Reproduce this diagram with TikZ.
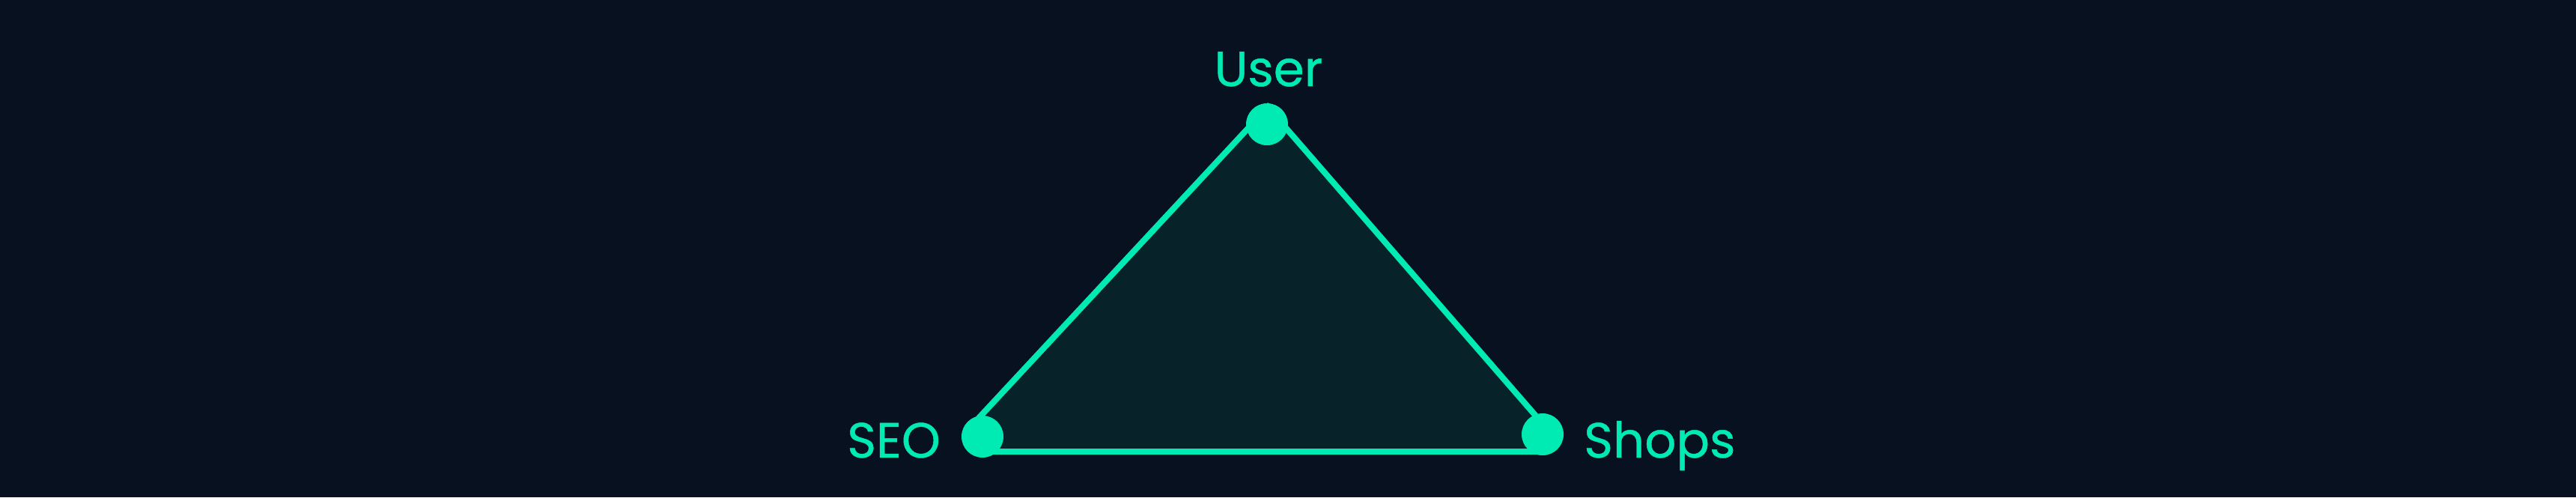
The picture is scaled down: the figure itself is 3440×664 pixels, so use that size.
\documentclass[tikz,border=0pt]{standalone}
\usepackage{fontspec}
\setmainfont{Poppins}
\newfontfamily\lblfont{Poppins}[FakeBold=0.7]
\definecolor{bgnavy}{HTML}{081120}
\definecolor{mint}{HTML}{00EBB4}
\definecolor{tealfill}{HTML}{072329}
\begin{document}
\begin{tikzpicture}[x=1pt,y=-1pt,
  dotnode/.style={circle,fill=mint,draw=none,minimum size=56pt,inner sep=0pt},
  lbl/.style={text=mint,font=\lblfont\fontsize{66}{66}\selectfont,inner sep=0pt},
  edgeline/.style={draw=mint,line width=8pt,fill=tealfill,line join=miter}]
\fill[bgnavy] (0,0) rectangle (3440,664);
\useasboundingbox (0,0) rectangle (3440,664);
% polygon corners (hidden inside the dots)
\coordinate (pa) at (1693,143);
\coordinate (pb) at (1296,570);
\coordinate (pc) at (1314,603);
\coordinate (pd) at (2058,603);
\coordinate (pe) at (2068,575);
\path[edgeline] (pa) -- (pb) -- (pc) -- (pd) -- (pe) -- cycle;
\node[dotnode] (user) at (1692,166) {};
\node[dotnode] (seo) at (1312,583) {};
\node[dotnode] (shops) at (2060,580) {};
\node[lbl,anchor=base] (userlbl) at (1694,115) {User};
\node[lbl,anchor=base east] (seolbl) at (1256,611) {SEO};
\node[lbl,anchor=base west] (shopslbl) at (2115,611) {Shops};
\end{tikzpicture}
\end{document}
